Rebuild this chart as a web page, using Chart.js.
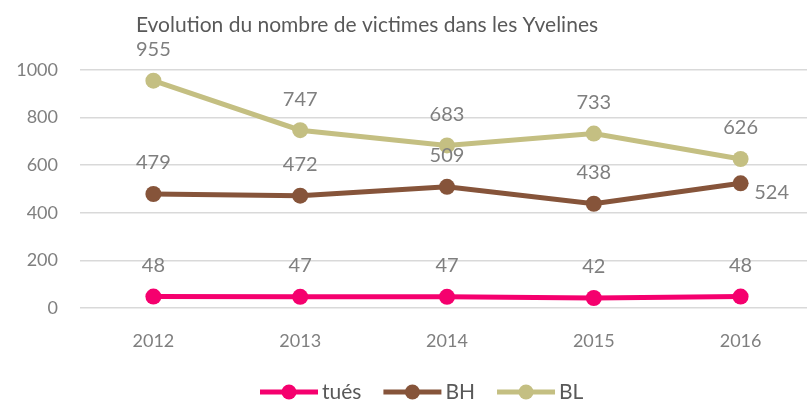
<!DOCTYPE html>
<html lang="fr">
<head>
<meta charset="UTF-8">
<title>Evolution du nombre de victimes</title>
<style>
  html, body { margin: 0; padding: 0; overflow: hidden; background: #fff; }
  #wrap { width: 822px; height: 402px; }
</style>
</head>
<body>
<div id="wrap"><canvas id="myChart"></canvas></div>
<script src="https://cdn.jsdelivr.net/npm/chart.js"></script>
<script>
const v_years = ['2012', '2013', '2014', '2015', '2016'];
const v_tues = [48, 47, 47, 42, 48];
const v_bh = [479, 472, 509, 438, 524];
const v_bl = [955, 747, 683, 733, 626];
const v_title = 'Evolution du nombre de victimes dans les Yvelines';

const FONT = 'Lato, "Open Sans", sans-serif';
const GREY = '#7f7f7f';

// titre + étiquettes de valeurs + légende dessinés à la main
const myDraw = {
  id: 'myDraw',
  afterDatasetsDraw(chart) {
    const ctx = chart.ctx;
    ctx.save();
    ctx.fillStyle = GREY;
    ctx.font = '20px ' + FONT;
    ctx.textAlign = 'center';
    ctx.textBaseline = 'middle';
    chart.data.datasets.forEach((ds, di) => {
      const meta = chart.getDatasetMeta(di);
      meta.data.forEach((pt, i) => {
        let dx = 0, dy = -31;
        if (ds.label === 'BH' && i === ds.data.length - 1) { dx = 31; dy = 9; }
        ctx.fillText(String(ds.data[i]), pt.x + dx, pt.y + dy);
      });
    });

    // titre
    ctx.fillStyle = '#595959';
    ctx.font = '21px ' + FONT;
    ctx.fillText(v_title, 367, 25);

    // légende
    ctx.font = '21px ' + FONT;
    ctx.textAlign = 'left';
    let x = 260;
    const y = 392;
    chart.data.datasets.forEach(ds => {
      ctx.strokeStyle = ds.borderColor;
      ctx.lineWidth = 5;
      ctx.beginPath();
      ctx.moveTo(x, y);
      ctx.lineTo(x + 58, y);
      ctx.stroke();
      ctx.fillStyle = ds.borderColor;
      ctx.beginPath();
      ctx.arc(x + 29, y, 7.5, 0, Math.PI * 2);
      ctx.fill();
      ctx.fillStyle = '#595959';
      ctx.fillText(ds.label, x + 62, y);
      x += 62 + ctx.measureText(ds.label).width + 22;
    });
    ctx.restore();
  }
};

function mkSet(label, data, color) {
  return {
    label: label,
    data: data,
    borderColor: color,
    backgroundColor: color,
    borderWidth: 5,
    pointRadius: 8,
    pointHoverRadius: 8,
    pointBorderWidth: 0,
    tension: 0
  };
}

new Chart(document.getElementById('myChart'), {
  type: 'line',
  data: {
    labels: v_years,
    datasets: [
      mkSet('tués', v_tues, '#f5006e'),
      mkSet('BH', v_bh, '#86543a'),
      mkSet('BL', v_bl, '#c4bf82')
    ]
  },
  options: {
    responsive: true,
    maintainAspectRatio: false,
    animation: false,
    layout: { padding: { top: 70, bottom: 54, right: 0, left: 0 } },
    plugins: {
      legend: { display: false },
      title: { display: false },
      tooltip: { enabled: false }
    },
    scales: {
      x: {
        offset: true,
        grid: { display: false, drawTicks: false, offset: true },
        border: { display: false },
        ticks: { color: GREY, font: { family: FONT, size: 18 }, padding: 22 },
        afterFit(s) { s.height = 40; }
      },
      y: {
        min: 0,
        max: 1000,
        ticks: {
          stepSize: 200, color: GREY, font: { family: FONT, size: 18 }, padding: 22,
          callback: v => String(v)
        },
        grid: { color: '#d9d9d9', lineWidth: 1.5, drawTicks: false },
        border: { display: false },
        afterFit(s) { s.width = 80; }
      }
    }
  },
  plugins: [myDraw]
});
</script>
</body>
</html>
